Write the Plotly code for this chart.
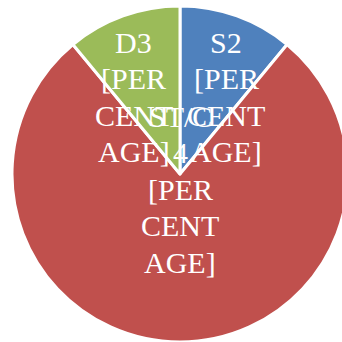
import math
import plotly.graph_objects as go

labels = ["S2", "ST/C4", "D3"]
values = [11, 78, 11]
display_lines = [
    ["S2", "[PER", "CENT", "AGE]"],
    ["ST/C", "4", "[PER", "CENT", "AGE]"],
    ["D3", "[PER", "CENT", "AGE]"],
]
colors = ["#4F81BD", "#C0504D", "#9BBB59"]

# label placement style: position along slice (0..1) and radial fraction
label_angle_frac = [0.78, 0.5, 0.22]
label_radius_frac = [0.534, 0.09, 0.534]
font_size = 30
line_gap = 36.5  # px between text lines

W, H = 348, 342
dom_x = [12 / W, 1.0]
dom_y = [0.0, 336 / H]

fig = go.Figure(go.Pie(
    labels=labels,
    values=values,
    textinfo="none",
    sort=False,
    direction="clockwise",
    rotation=0,
    marker=dict(colors=colors, line=dict(color="white", width=3)),
    domain=dict(x=dom_x, y=dom_y),
    showlegend=False,
    hoverinfo="label+percent",
))

# pie geometry in pixels (derived from domain)
dw = (dom_x[1] - dom_x[0]) * W
dh = (dom_y[1] - dom_y[0]) * H
R = min(dw, dh) / 2
cx = (dom_x[0] + dom_x[1]) / 2 * W
cy = (1 - (dom_y[0] + dom_y[1]) / 2) * H

total = sum(values)
start = 0.0
for v, lines, af, rf in zip(values, display_lines, label_angle_frac, label_radius_frac):
    span = v / total * 360.0
    ang = math.radians(start + af * span)
    px = cx + rf * R * math.sin(ang)
    py = cy - rf * R * math.cos(ang)
    n = len(lines)
    for i, line in enumerate(lines):
        ly = py + (i - (n - 1) / 2) * line_gap
        fig.add_annotation(
            x=px / W, y=1 - ly / H, xref="paper", yref="paper",
            text=line, showarrow=False, xanchor="center", yanchor="middle",
            font=dict(family="Liberation Serif", size=font_size, color="white"),
        )
    start += span

fig.update_layout(
    width=W, height=H,
    margin=dict(l=0, r=0, t=0, b=0),
    paper_bgcolor="white",
)
fig.write_html(
    "out.html",
    post_script="document.documentElement.style.overflow='hidden';document.body.style.overflow='hidden';document.body.style.margin='0';",
)
